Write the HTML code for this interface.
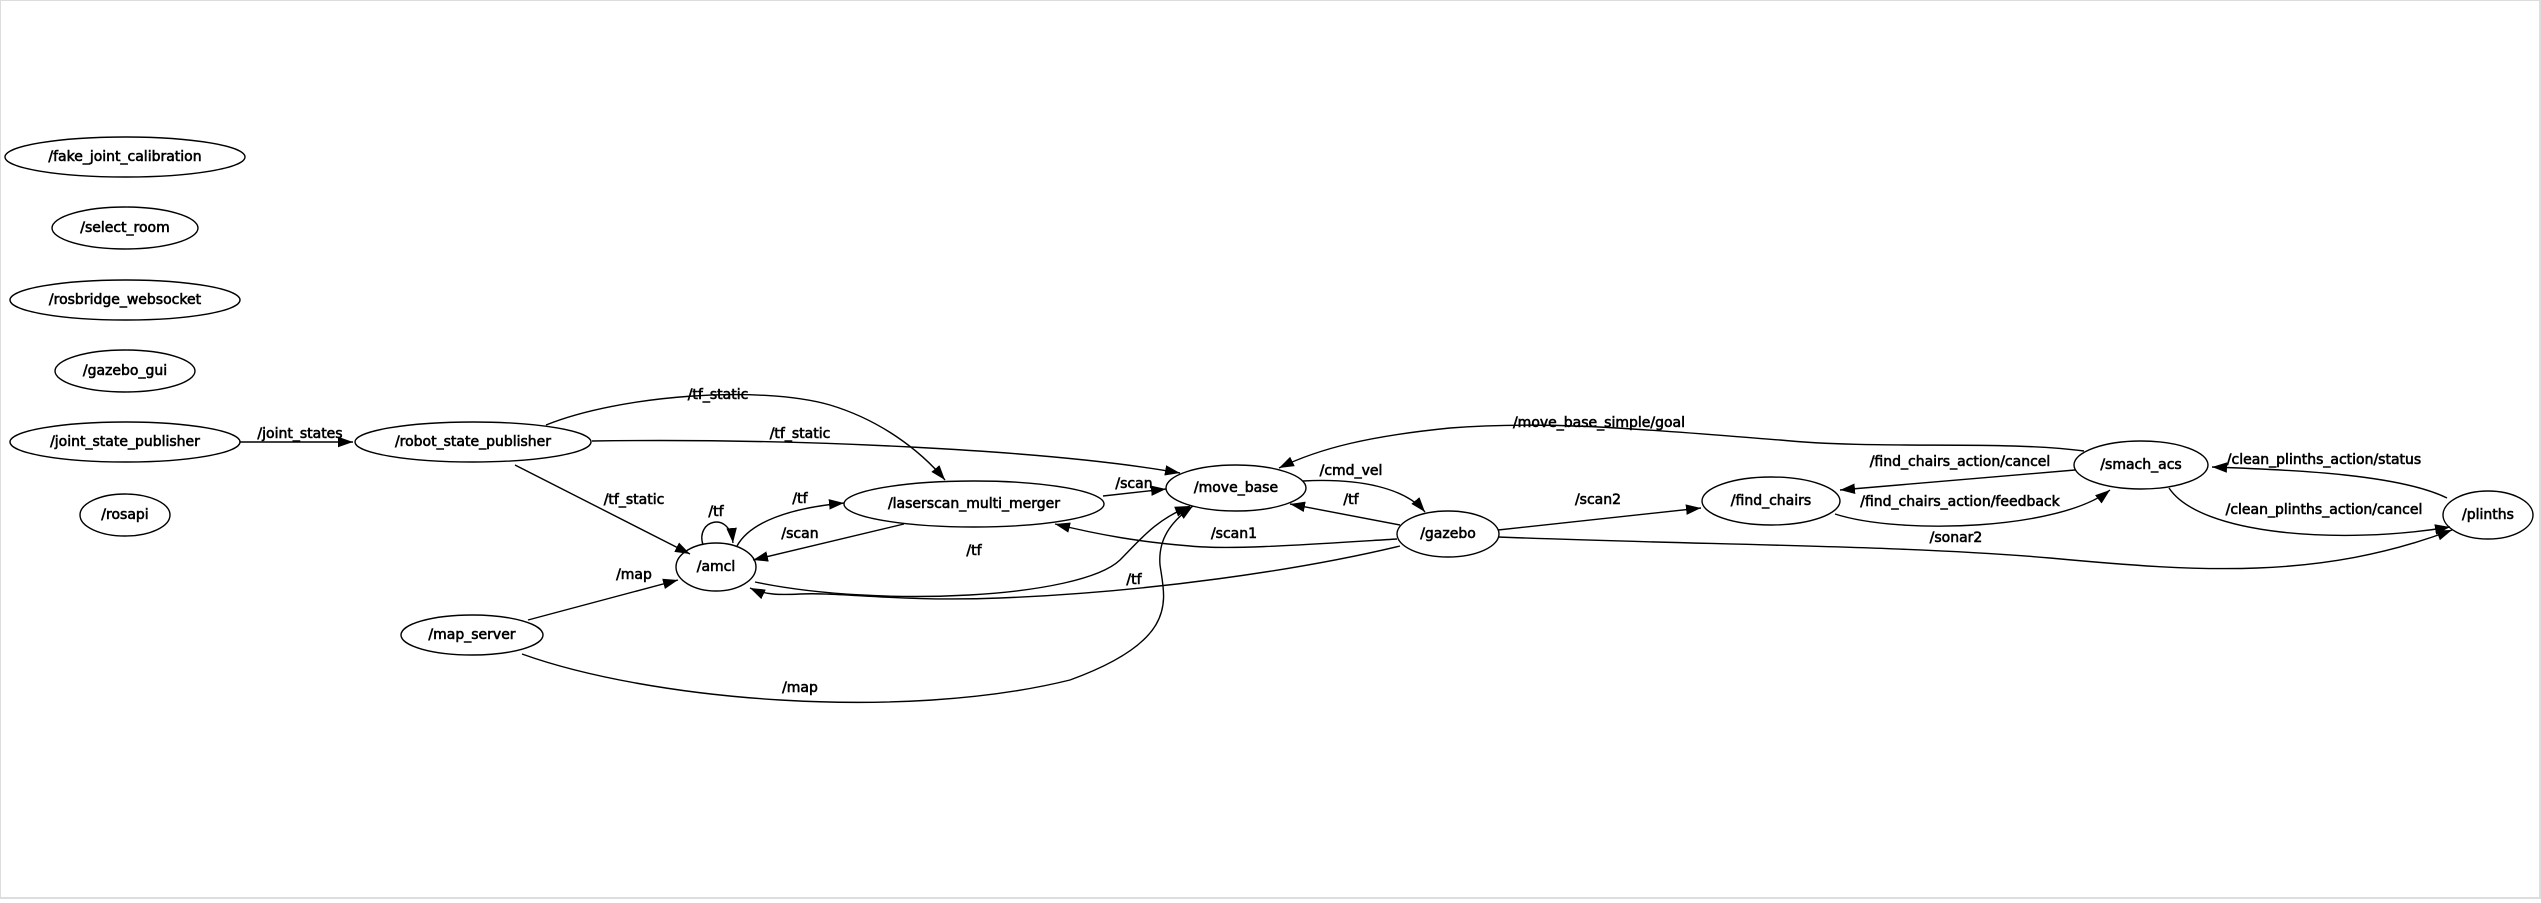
<!DOCTYPE html>
<html><head><meta charset="utf-8"><style>
html,body{margin:0;padding:0;background:#fff;}
svg{display:block;}
text{font-family:"DejaVu Sans","Liberation Sans",sans-serif;font-size:14px;fill:#000;stroke:#000;stroke-width:0.6;text-anchor:middle;dominant-baseline:central;}
ellipse{fill:none;stroke:#000;stroke-width:1.4;}
path.e{fill:none;stroke:#000;stroke-width:1.4;}
</style></head><body>
<svg width="2541" height="903" viewBox="0 0 2541 903" xmlns="http://www.w3.org/2000/svg">
<defs>
<marker id="a" viewBox="0 0 10 10" refX="10" refY="5" markerWidth="15" markerHeight="15" markerUnits="userSpaceOnUse" orient="auto">
<path d="M0,1.5 L10,5 L0,8.5 Z" fill="#000"/></marker>
</defs>
<rect x="0" y="0" width="2540" height="898" fill="none" stroke="#ddd" stroke-width="2"/>

<ellipse cx="125" cy="157" rx="120" ry="20"/><text x="125" y="157">/fake_joint_calibration</text>
<ellipse cx="125" cy="228" rx="73" ry="21"/><text x="125" y="228">/select_room</text>
<ellipse cx="125" cy="300" rx="115" ry="20"/><text x="125" y="300">/rosbridge_websocket</text>
<ellipse cx="125" cy="371" rx="70" ry="21"/><text x="125" y="371">/gazebo_gui</text>
<ellipse cx="125" cy="442" rx="115" ry="20"/><text x="125" y="442">/joint_state_publisher</text>
<ellipse cx="125" cy="515" rx="45" ry="21"/><text x="125" y="515">/rosapi</text>
<ellipse cx="473" cy="442" rx="118" ry="20"/><text x="473" y="442">/robot_state_publisher</text>
<ellipse cx="716" cy="567" rx="40" ry="24"/><text x="716" y="567">/amcl</text>
<ellipse cx="472" cy="635" rx="71" ry="20"/><text x="472" y="635">/map_server</text>
<ellipse cx="974" cy="504" rx="130" ry="23"/><text x="974" y="504">/laserscan_multi_merger</text>
<ellipse cx="1236" cy="488" rx="70" ry="23"/><text x="1236" y="488">/move_base</text>
<ellipse cx="1448" cy="534" rx="51" ry="23"/><text x="1448" y="534">/gazebo</text>
<ellipse cx="1771" cy="501" rx="69" ry="24"/><text x="1771" y="501">/find_chairs</text>
<ellipse cx="2141" cy="465" rx="67" ry="24"/><text x="2141" y="465">/smach_acs</text>
<ellipse cx="2488" cy="515" rx="45" ry="24"/><text x="2488" y="515">/plinths</text>

<path class="e" marker-end="url(#a)" d="M240,442 L353,442"/>
<text x="300" y="434">/joint_states</text>

<path class="e" marker-end="url(#a)" d="M546,425 C620,395 760,385 830,405 C880,420 920,450 945,480"/>
<text x="718" y="395">/tf_static</text>

<path class="e" marker-end="url(#a)" d="M592,441 C800,438 1050,450 1180,473"/>
<text x="800" y="434">/tf_static</text>

<path class="e" marker-end="url(#a)" d="M515,465 L690,554"/>
<text x="634" y="500">/tf_static</text>

<path class="e" marker-end="url(#a)" d="M703,545 C695,520 730,510 733,543"/>
<text x="716" y="512">/tf</text>

<path class="e" marker-end="url(#a)" d="M737,546 C750,522 790,508 844,503"/>
<text x="800" y="499">/tf</text>

<path class="e" marker-end="url(#a)" d="M904,524 L753,560"/>
<text x="800" y="534">/scan</text>

<path class="e" marker-end="url(#a)" d="M1103,496 L1166,489"/>
<text x="1134" y="484">/scan</text>

<path class="e" marker-end="url(#a)" d="M755,582 C880,608 1080,598 1120,560 C1140,540 1155,520 1190,506"/>
<text x="974" y="551">/tf</text>

<path class="e" marker-end="url(#a)" d="M1400,546 C1300,570 1150,592 1000,598 C900,602 840,592 800,594 C780,595 765,595 750,588"/>
<text x="1134" y="580">/tf</text>

<path class="e" marker-end="url(#a)" d="M528,620 L678,580"/>
<text x="634" y="575">/map</text>

<path class="e" marker-end="url(#a)" d="M522,654 C650,700 900,722 1070,680 C1180,640 1165,600 1160,565 C1158,540 1170,522 1193,506"/>
<text x="800" y="688">/map</text>

<path class="e" marker-end="url(#a)" d="M1303,481 C1360,478 1405,488 1425,512"/>
<text x="1351" y="471">/cmd_vel</text>

<path class="e" marker-end="url(#a)" d="M1400,525 L1290,504"/>
<text x="1351" y="500">/tf</text>

<path class="e" marker-end="url(#a)" d="M1397,539 C1300,545 1230,550 1190,546 C1140,542 1100,535 1055,524"/>
<text x="1234" y="534">/scan1</text>

<path class="e" marker-end="url(#a)" d="M1498,530 L1701,508"/>
<text x="1598" y="500">/scan2</text>

<path class="e" marker-end="url(#a)" d="M1498,537 C1700,545 1900,545 2050,558 C2200,572 2320,580 2452,530"/>
<text x="1956" y="538">/sonar2</text>

<path class="e" marker-end="url(#a)" d="M2084,451 C2000,440 1880,450 1780,440 C1650,430 1550,420 1450,428 C1370,436 1320,448 1279,468"/>
<text x="1599" y="423">/move_base_simple/goal</text>

<path class="e" marker-end="url(#a)" d="M2075,470 L1840,490"/>
<text x="1960" y="462">/find_chairs_action/cancel</text>

<path class="e" marker-end="url(#a)" d="M1835,514 C1900,535 2060,530 2110,490"/>
<text x="1960" y="502">/find_chairs_action/feedback</text>

<path class="e" marker-end="url(#a)" d="M2447,498 C2400,475 2300,470 2212,467"/>
<text x="2324" y="460">/clean_plinths_action/status</text>

<path class="e" marker-end="url(#a)" d="M2169,488 C2200,535 2340,545 2450,527"/>
<text x="2324" y="510">/clean_plinths_action/cancel</text>
</svg>
</body></html>
